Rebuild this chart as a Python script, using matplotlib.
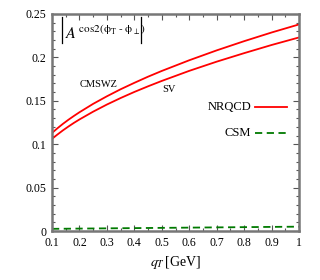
import matplotlib
matplotlib.use("Agg")
import matplotlib.pyplot as plt
from matplotlib.ticker import MultipleLocator, FuncFormatter

# values
qt = [0.1, 0.11, 0.12, 0.14, 0.16, 0.18, 0.2, 0.25, 0.3, 0.35, 0.4, 0.45,
      0.5, 0.6, 0.7, 0.8, 0.9, 1.0]
cmswz = [0.1129, 0.1157, 0.1184, 0.1235, 0.1282, 0.1326, 0.1368, 0.1465, 0.1552,
         0.1633, 0.1707, 0.1778, 0.1844, 0.1967, 0.2081, 0.2187, 0.2287, 0.238]
sv = [0.1061, 0.1087, 0.1112, 0.1160, 0.1204, 0.1246, 0.1285, 0.1375, 0.1457,
      0.1532, 0.1602, 0.1667, 0.1729, 0.1845, 0.1951, 0.2049, 0.2143, 0.223]
csm_x = [0.1, 1.0]
csm = [0.0025, 0.0050]

plt.rcParams['font.family'] = ['Liberation Serif', 'DejaVu Serif']
plt.rcParams['mathtext.fontset'] = 'stix'

fig = plt.figure(figsize=(3.2, 2.8), dpi=100)
ax = fig.add_axes([0.1625, 0.175, 0.772, 0.775])

ax.plot(qt, cmswz, color='#ff0000', lw=1.3)
ax.plot(qt, sv, color='#ff0000', lw=1.3)
ax.plot(csm_x, csm, color='#007a00', lw=1.3, dashes=(4, 2.5))

ax.set_xlim(0.1, 1.0)
ax.set_ylim(0, 0.25)

ax.xaxis.set_major_locator(MultipleLocator(0.1))
ax.xaxis.set_minor_locator(MultipleLocator(0.05))
ax.yaxis.set_major_locator(MultipleLocator(0.05))
ax.yaxis.set_minor_locator(MultipleLocator(0.01))
ax.xaxis.set_major_formatter(FuncFormatter(lambda v, p: f"{v:g}"))
ax.yaxis.set_major_formatter(FuncFormatter(lambda v, p: f"{v:g}"))

ax.tick_params(which='both', direction='in', top=True, right=True, color='#555555', labelsize=8.5, pad=4)
ax.tick_params(which='major', length=4, width=0.8)
ax.tick_params(which='minor', length=2, width=0.8)
for s in ax.spines.values():
    s.set_color('#777777')
    s.set_linewidth(1.8)

ax.set_xlabel(r'$q_T\,$[GeV]', fontsize=10, labelpad=4)

# curve labels
ax.text(0.269, 0.169, 'CMSWZ', fontsize=7.5, ha='center', va='center')
ax.text(0.526, 0.1635, 'SV', fontsize=7.5, ha='center', va='center')

# legend drawn by hand like the gnuplot key
ax.text(0.826, 0.143, 'NRQCD', fontsize=9, ha='right', va='center')
ax.plot([0.84, 0.956], [0.143, 0.143], color='#ff0000', lw=1.3)
ax.text(0.826, 0.1125, 'CSM', fontsize=9, ha='right', va='center')
ax.plot([0.84, 0.956], [0.1125, 0.1125], color='#007a00', lw=1.3, dashes=(4, 2.5))

# |A^{cos2(phi_T - phi_perp)}| label, bars drawn as thin lines
ax.text(0.052, 0.905, r'$A^{\,\mathrm{cos2(\phi_T\text{ - }\phi_\perp)}}$',
        fontsize=11.5, ha='left', va='center', transform=ax.transAxes)
for bx in (0.040, 0.362):
    ax.plot([bx, bx], [0.866, 0.984], color='black', lw=0.9, transform=ax.transAxes)

fig.savefig('out.png', dpi=100)
